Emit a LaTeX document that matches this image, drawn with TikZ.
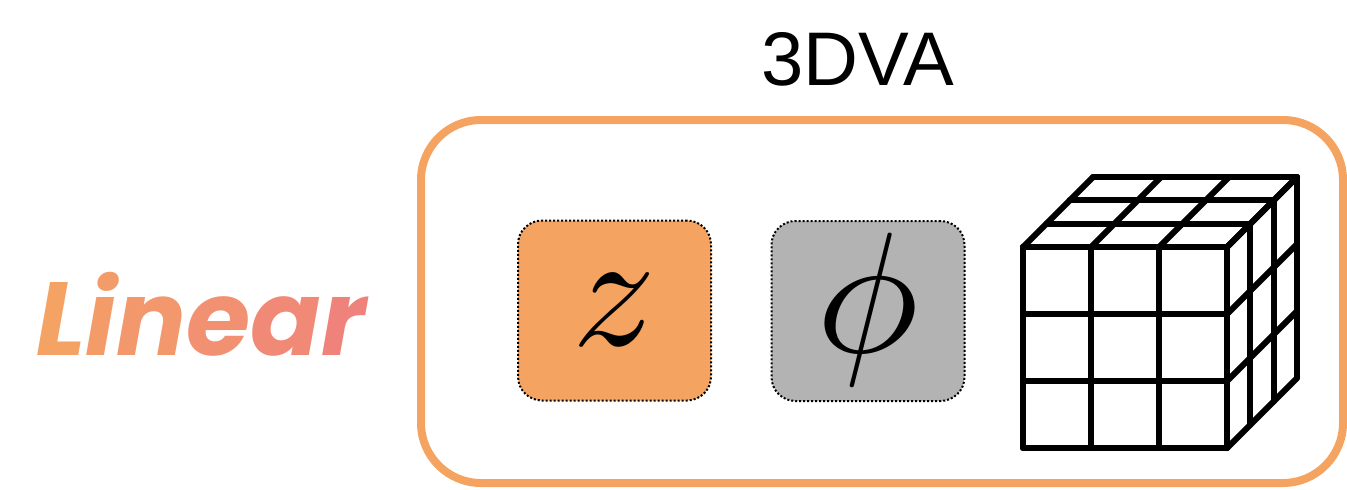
\documentclass[tikz,border=0pt]{standalone}
\usepackage{fontspec}
\setsansfont{Liberation Sans}
\newfontfamily\popfont{Poppins}
\definecolor{sandy}{RGB}{244,164,96}
\definecolor{lgray}{RGB}{179,179,179}
\definecolor{gradL}{RGB}{244,166,98}
\definecolor{gradR}{RGB}{240,128,126}
\tikzset{
  frame/.style={draw=sandy, line width=8pt, rounded corners=60pt},
  varbox/.style={draw=black, line width=2pt, dotted, rounded corners=24pt, minimum width=193pt, minimum height=180pt, inner sep=0pt},
  cubeline/.style={line width=6pt, line join=round, line cap=round},
}
\begin{document}
\begin{tikzpicture}[x=1pt,y=-1pt]
\useasboundingbox (0,0) rectangle (1347,490);
% gradient text
\node[font=\popfont\bfseries\itshape\fontsize{104}{104}\selectfont, inner sep=0pt] (linear) at (201,314)
 {\textcolor{gradR!8!gradL}{L}\textcolor{gradR!26!gradL}{i}\textcolor{gradR!40!gradL}{n}\textcolor{gradR!58!gradL}{e}\textcolor{gradR!76!gradL}{a}\textcolor{gradR!94!gradL}{r}};
% title
\node[font=\sffamily\fontsize{76}{76}\selectfont, anchor=base] (title) at (858,85) {3DVA};
% frame
\draw[frame] (421,120) rectangle (1343,483);
% variable boxes
\node[varbox, fill=sandy] (zbox) at (614.5,310.5) {};
\node[varbox, fill=lgray] (phibox) at (868,311) {};
\node[inner sep=0pt] (zsym) at (614,310) {\scalebox{16.5}{$z$}};
\node[inner sep=0pt] (phisym) at (868,309.5) {\scalebox{17.2}{$\phi$}};
% cube
\def\fx{1023}\def\fy{247}\def\cw{204}\def\ch{201}\def\dd{70}
\begin{scope}[cubeline]
  \foreach \i in {0,1,2,3} {
    \draw ({\fx+\i*\cw/3},\fy) -- ({\fx+\i*\cw/3},{\fy+\ch});
    \draw (\fx,{\fy+\i*\ch/3}) -- ({\fx+\cw},{\fy+\i*\ch/3});
    \draw ({\fx+\i*\cw/3},\fy) -- ({\fx+\i*\cw/3+\dd},{\fy-\dd});
    \draw ({\fx+\i*\dd/3},{\fy-\i*\dd/3}) -- ({\fx+\cw+\i*\dd/3},{\fy-\i*\dd/3});
    \draw ({\fx+\cw},{\fy+\i*\ch/3}) -- ({\fx+\cw+\dd},{\fy+\i*\ch/3-\dd});
    \draw ({\fx+\cw+\i*\dd/3},{\fy-\i*\dd/3}) -- ({\fx+\cw+\i*\dd/3},{\fy+\ch-\i*\dd/3});
  }
\end{scope}
\end{tikzpicture}
\end{document}
